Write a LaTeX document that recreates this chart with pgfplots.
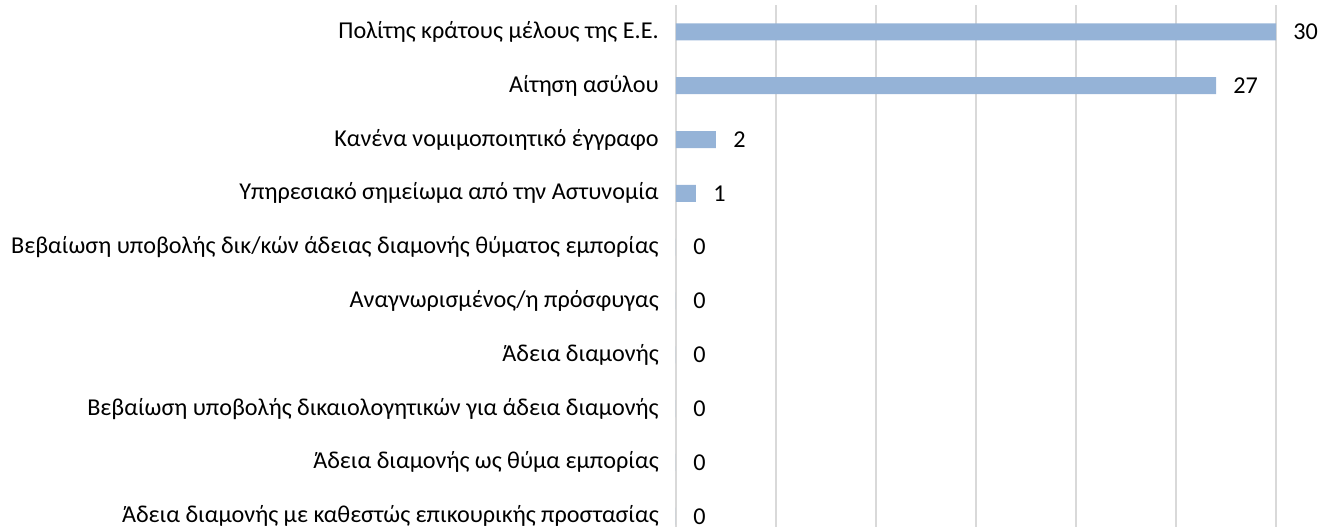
\documentclass[border=0pt]{standalone}
\usepackage{fontspec}
\setmainfont{Carlito}
\usepackage{pgfplots}
\pgfplotsset{compat=1.18}
\definecolor{barc}{HTML}{95B3D7}
\definecolor{gridc}{HTML}{D9D9D9}
\begin{document}
\fontsize{24.2}{28}\selectfont
\begin{tikzpicture}
\begin{axis}[
  name=ax,
  scale only axis,
  width=600pt, height=522pt,
  xbar, bar width=17pt,
  xmin=0, xmax=30,
  ymin=-0.5, ymax=9.2,
  y dir=reverse,
  xtick={0,5,...,30}, xticklabels={},
  xmajorgrids, grid style={gridc, line width=1.3pt},
  ytick={0,...,9},
  yticklabels={Πολίτης κράτους μέλους της Ε.Ε.,Αίτηση ασύλου,Κανένα νομιμοποιητικό έγγραφο,Υπηρεσιακό σημείωμα από την Αστυνομία,Βεβαίωση υποβολής δικ/κών άδειας διαμονής θύματος εμπορίας,Αναγνωρισμένος/η πρόσφυγας,Άδεια διαμονής,Βεβαίωση υποβολής δικαιολογητικών για άδεια διαμονής,Άδεια διαμονής ως θύμα εμπορίας,Άδεια διαμονής με καθεστώς επικουρικής προστασίας},
  yticklabel style={font=\fontsize{24.2}{28}\selectfont, xshift=-9pt},
  axis line style={draw=none},
  major tick length=0pt,
  clip=false,
  nodes near coords,
  nodes near coords style={font=\fontsize{24.2}{28}\selectfont, anchor=west, xshift=9pt, /pgf/number format/assume math mode=true},
]
\addplot[fill=barc, draw=none] coordinates {
(30,0) (27,1) (2,2) (1,3) (0,4) (0,5) (0,6) (0,7) (0,8) (0,9)};
\end{axis}
\pgfresetboundingbox
\path[use as bounding box] ([xshift=-676pt]ax.south west) rectangle ([xshift=45pt,yshift=5pt]ax.north east);
\end{tikzpicture}
\end{document}
